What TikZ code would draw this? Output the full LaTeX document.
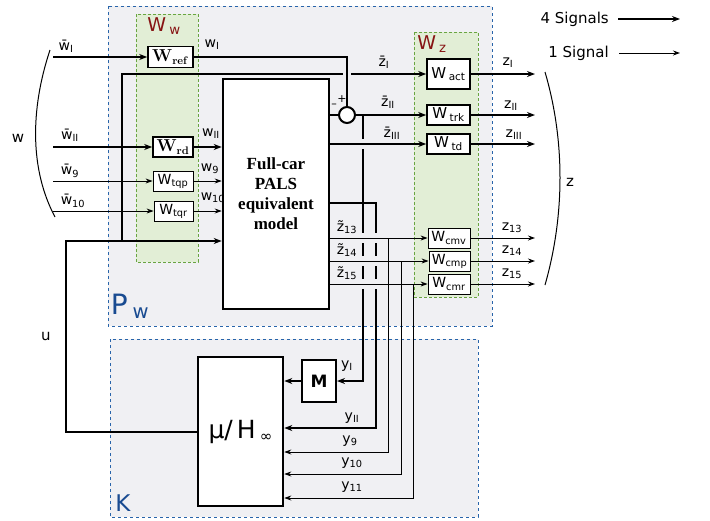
\documentclass[tikz,border=0pt]{standalone}
\usepackage[no-math]{fontspec}
\setmainfont{DejaVu Sans}
\newfontfamily\blkserif{Liberation Serif}
\usetikzlibrary{arrows.meta}
\definecolor{frameblue}{RGB}{40,100,170}
\definecolor{framefill}{RGB}{240,240,243}
\definecolor{wtgreen}{RGB}{105,165,65}
\definecolor{wtfill}{RGB}{226,238,214}
\definecolor{wtred}{RGB}{135,20,20}
\definecolor{pwblue}{RGB}{25,75,145}
\newcommand{\fsz}[1]{\fontsize{#1}{#1}\selectfont}
\tikzset{
  pwframe/.style = {draw=frameblue, dashed, line width=0.9pt, fill=framefill},
  wtframe/.style = {draw=wtgreen, densely dashed, line width=0.8pt, fill=wtfill},
  blk/.style     = {draw, line width=2.6pt, fill=white, inner sep=0pt},
  wbig/.style    = {draw, line width=1.6pt, fill=white, inner sep=0pt, font=\fsz{15}},
  wsml/.style    = {draw, line width=0.8pt, fill=white, inner sep=0pt, font=\fsz{14}},
  lbl/.style     = {font=\fsz{14}, inner sep=0pt},
  sig/.style     = {line width=2pt, -{Stealth[length=8pt, width=6pt]}},
  bus/.style     = {line width=2pt},
  sigthin/.style = {line width=0.9pt, -{Stealth[length=7pt, width=5pt]}},
  busthin/.style = {line width=0.9pt},
}

\begin{document}
\begin{tikzpicture}[x=1pt, y=-1pt]

  \useasboundingbox (0,0) rectangle (710,520);

  % ── frames: P_w, K, weighting strips ──
  \draw[pwframe] (108,6) rectangle (492,326);
  \draw[pwframe] (110,339) rectangle (478,517);
  \draw[wtframe] (136,14) rectangle (198,262);
  \draw[wtframe] (414,32) rectangle (478,297);

  \node[font=\fsz{19}, text=wtred] (lWw) at (164,26) {W\,\textsubscript{w}};
  \node[font=\fsz{19}, text=wtred] (lWz) at (432,44) {W\,\textsubscript{z}};
  \node[font=\fsz{28}, text=pwblue] (lPw) at (130,306) {P\,\textsubscript{w}};
  \node[font=\fsz{23}, text=pwblue] (lK)  at (123,503) {K};

  % ── blocks ──
  \node[blk, minimum width=106pt, minimum height=230pt, align=center,
        font=\blkserif\bfseries\fsz{17}] (plant) at (276,194)
        {Full-car\\[3pt]PALS\\[3pt]equivalent\\[3pt]model};
  \node[blk, minimum width=85pt, minimum height=149pt] (ctrl) at (240.5,431.5)
        {\fsz{25}μ/\,H\,\raisebox{-3pt}{\fsz{15}∞}};
  \node[blk, line width=2pt, minimum width=34pt, minimum height=42pt,
        font=\bfseries\fsz{17}] (mblk) at (319,381) {M};

  % input weights
  \node[wbig, minimum width=45pt, minimum height=21pt] (wref) at (170.5,57)
        {\fsz{16}$\mathbf{W}_{\mathbf{ref}}$};
  \node[wbig, minimum width=40pt, minimum height=20pt] (wrd) at (173,147)
        {\fsz{16}$\mathbf{W}_{\mathbf{rd}}$};
  \node[wsml, minimum width=40pt, minimum height=20pt] (wtqp) at (173,181)
        {W\textsubscript{tqp}};
  \node[wsml, minimum width=39pt, minimum height=20pt] (wtqr) at (173.5,211)
        {W\textsubscript{tqr}};

  % output weights
  \node[wbig, minimum width=43pt, minimum height=30pt] (wact) at (448.5,74)
        {W\,\textsubscript{act}};
  \node[wbig, minimum width=43pt, minimum height=20pt] (wtrk) at (448.5,115)
        {W\,\textsubscript{trk}};
  \node[wbig, minimum width=43pt, minimum height=20pt] (wtd) at (448.5,144)
        {W\,\textsubscript{td}};
  \node[wsml, minimum width=42pt, minimum height=20pt] (wcmv) at (449,238)
        {W\textsubscript{cmv}};
  \node[wsml, minimum width=41pt, minimum height=20pt] (wcmp) at (449.5,261)
        {W\textsubscript{cmp}};
  \node[wsml, minimum width=42pt, minimum height=20pt] (wcmr) at (449,284)
        {W\textsubscript{cmr}};

  % summing junction
  \node[draw, circle, line width=2pt, fill=white, minimum size=16pt,
        inner sep=0pt] (sum) at (347,115) {};
  \node[font=\fsz{11}, inner sep=0pt] (splus)  at (342,99)  {+};
  \node[font=\fsz{11}, inner sep=0pt] (sminus) at (334,106) {–};

  % ── free ends ──
  \coordinate (wIin)  at (53,57);
  \coordinate (wIIin) at (53,147);
  \coordinate (w9in)  at (53,181);
  \coordinate (w10in) at (53,211);
  \coordinate (zend)  at (535,0);
  \coordinate (ucorner) at (66,241);
  \coordinate (zItap) at (122,241);
  \coordinate (y2out) at (329,203);
  \coordinate (y2c)   at (376,428);
  \coordinate (y9c)   at (388,452);
  \coordinate (y10c)  at (401,474);
  \coordinate (y11c)  at (413,498);

  % ── exogenous inputs ──
  \draw[sig]     (wIin)  -- (wref.west);
  \draw[sig]     (wIIin) -- (wrd.west);
  \draw[sigthin] (w9in)  -- (wtqp.west);
  \draw[sigthin] (w10in) -- (wtqr.west);

  \draw[bus]     (wref.east) -| (sum.north);
  \draw[sig]     (wrd.east)  -- (wrd.east -| plant.west);
  \draw[sigthin] (wtqp.east) -- (wtqp.east -| plant.west);
  \draw[sigthin] (wtqr.east) -- (wtqr.east -| plant.west);

  % control input u and its copy to W_act
  \draw[sig] (ctrl.west) -| (ucorner) -- (ucorner -| plant.west);
  \draw[bus] (zItap) |- (343,74);
  \draw[sig] (351,74) -- (wact.west);

  % plant outputs
  \draw[bus]     (plant.east |- sum.west) -- (sum.west);
  \draw[sig]     (sum.east) -- (wtrk.west);
  \draw[sig]     (plant.east |- wtd.west) -- (wtd.west);
  \draw[sigthin] (plant.east |- wcmv.west) -- (wcmv.west);
  \draw[sigthin] (plant.east |- wcmp.west) -- (wcmp.west);
  \draw[sigthin] (plant.east |- wcmr.west) -- (wcmr.west);

  \draw[sig]     (wact.east) -- (wact.east -| zend);
  \draw[sig]     (wtrk.east) -- (wtrk.east -| zend);
  \draw[sig]     (wtd.east)  -- (wtd.east -| zend);
  \draw[sigthin] (wcmv.east) -- (wcmv.east -| zend);
  \draw[sigthin] (wcmp.east) -- (wcmp.east -| zend);
  \draw[sigthin] (wcmr.east) -- (wcmr.east -| zend);

  % measurements to K
  \draw[bus] (363,115) -- (363,139) (363,149) -- (363,233)
             (363,243) -- (363,256) (363,266) -- (363,279);
  \draw[sig] (363,289) -- (363,381) -- (mblk.east);
  \draw[sig] (mblk.west) -- (mblk.west -| ctrl.east);

  \draw[bus] (y2out) -- (376,203) -- (376,233)
             (376,243) -- (376,256) (376,266) -- (376,279);
  \draw[sig] (376,289) -- (y2c) -- (y2c -| ctrl.east);

  \draw[sigthin] (388,238) -- (y9c)  -- (y9c -| ctrl.east);
  \draw[sigthin] (401,261) -- (y10c) -- (y10c -| ctrl.east);
  \draw[sigthin] (413,284) -- (y11c) -- (y11c -| ctrl.east);

  % brackets
  \draw[line width=1pt] (50,50) .. controls (30,110) and (30,170) .. (55,217);
  \draw[line width=1pt] (545,72) .. controls (565,140) and (565,215) .. (545,285);

  % ── signal labels ──
  \node[lbl, font=\fsz{15}] (lw) at (18,138)  {w};
  \node[lbl, font=\fsz{15}] (lz) at (570,182) {z};
  \node[lbl, font=\fsz{15}] (lu) at (46,336)  {u};

  \node[lbl] (lbwI)   at (66,46)   {\={w}\textsubscript{I}};
  \node[lbl] (lbwII)  at (70,135)  {\={w}\textsubscript{II}};
  \node[lbl] (lbw9)   at (70,171)  {\={w}\textsubscript{9}};
  \node[lbl] (lbw10)  at (73,201)  {\={w}\textsubscript{10}};
  \node[lbl] (lwI)    at (212,45)  {w\textsubscript{I}};
  \node[lbl] (lwII)   at (211,134) {w\textsubscript{II}};
  \node[lbl] (lw9)    at (210,169) {w\textsubscript{9}};
  \node[lbl] (lw10)   at (213,198) {w\textsubscript{10}};

  \node[lbl] (lbzI)   at (384,62)  {\={z}\textsubscript{I}};
  \node[lbl] (lbzII)  at (388,102) {\={z}\textsubscript{II}};
  \node[lbl] (lbzIII) at (392,133) {\={z}\textsubscript{III}};
  \node[lbl] (ltz13)  at (347,227) {\~{z}\textsubscript{13}};
  \node[lbl] (ltz14)  at (347,250) {\~{z}\textsubscript{14}};
  \node[lbl] (ltz15)  at (347,273) {\~{z}\textsubscript{15}};

  \node[lbl] (lzI)    at (508,63)  {z\textsubscript{I}};
  \node[lbl] (lzII)   at (511,106) {z\textsubscript{II}};
  \node[lbl] (lzIII)  at (514,135) {z\textsubscript{III}};
  \node[lbl] (lz13)   at (512,228) {z\textsubscript{13}};
  \node[lbl] (lz14)   at (512,251) {z\textsubscript{14}};
  \node[lbl] (lz15)   at (512,274) {z\textsubscript{15}};

  \node[lbl] (lyI)    at (347,366) {y\textsubscript{I}};
  \node[lbl] (lyII)   at (352,418) {y\textsubscript{II}};
  \node[lbl] (ly9)    at (350,441) {y\textsubscript{9}};
  \node[lbl] (ly10)   at (352,463) {y\textsubscript{10}};
  \node[lbl] (ly11)   at (352,487) {y\textsubscript{11}};

  % ── legend ──
  \node[font=\fsz{15}, inner sep=0pt, anchor=east] (leg4) at (609,19) {4 Signals};
  \node[font=\fsz{15}, inner sep=0pt, anchor=east] (leg1) at (609,53) {1 Signal};
  \draw[sig]     ([xshift=9pt]leg4.east) -- ++(62,0);
  \draw[sigthin] ([xshift=10pt]leg1.east) -- ++(61,0);

\end{tikzpicture}
\end{document}
